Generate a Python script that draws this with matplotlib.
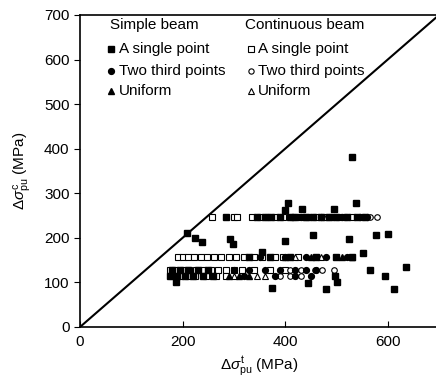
import matplotlib
matplotlib.use("Agg")
import matplotlib.pyplot as plt

plt.rcParams["font.family"] = ["Liberation Sans", "DejaVu Sans"]
plt.rcParams["mathtext.fontset"] = "custom"
plt.rcParams["mathtext.rm"] = "Liberation Sans"
plt.rcParams["mathtext.it"] = "Liberation Sans:italic"

# simple beam, a single point (filled squares)
ss_x = [531, 405, 538, 399, 432, 495, 208, 224, 237, 292, 298, 399, 354, 455, 525,
        577, 601, 552, 497, 501, 445, 479, 566, 594, 636, 612, 187, 375,
        284, 345, 360, 372, 390, 410, 420, 440, 455, 470, 485, 500, 520, 540, 555,
        330, 370, 410, 460, 500, 530,
        180, 195, 210, 230, 250, 175, 190, 205, 220, 240, 260]
ss_y = [382, 279, 279, 262, 264, 264, 210, 199, 191, 197, 186, 194, 169, 206, 197,
        206, 208, 167, 114, 102, 99, 85, 128, 115, 135, 85, 102, 87,
        247, 247, 247, 247, 247, 247, 247, 247, 247, 247, 247, 247, 247, 247, 247,
        158, 158, 158, 158, 158, 158,
        128, 128, 128, 128, 128, 114, 114, 114, 114, 114, 114]

# simple beam, two third points (filled circles)
st_x = [430, 470, 510, 545, 560, 350, 400, 440, 480, 520,
        300, 330, 360, 390, 420, 440, 460, 320, 380, 420, 450]
st_y = [247, 247, 247, 247, 247, 158, 158, 158, 158, 158,
        128, 128, 128, 128, 128, 128, 128, 114, 114, 114, 114]

# simple beam, uniform (filled triangles)
su_x = [400, 450, 510, 530, 290, 310, 330]
su_y = [158, 158, 158, 158, 114, 114, 114]

# continuous beam, a single point (open squares)
cs_x = [258, 300, 306, 335, 350, 365, 380, 395, 415, 430, 445, 460, 475, 490, 505, 515, 530, 550,
        191, 200, 210, 222, 235, 248, 262, 275, 290, 305, 320, 340, 355, 380, 395, 425,
        175, 185, 200, 213, 226, 240, 255, 270, 285, 300, 315, 340, 370, 400,
        180, 195, 210, 225, 245, 265, 285]
cs_y = [247] * 18 + [158] * 16 + [128] * 14 + [114] * 7

# continuous beam, two third points (open circles)
ct_x = [579, 565, 458, 471, 495, 410, 430, 390, 410, 430]
ct_y = [247, 247, 128, 128, 128, 128, 128, 114, 114, 114]

# continuous beam, uniform (open triangles)
cu_x = [420, 470, 300, 345, 360, 440, 480]
cu_y = [158, 158, 114, 114, 114, 247, 247]

W, H = 436, 387
fig = plt.figure(figsize=(W / 100, H / 100), dpi=100)
ax = fig.add_axes([80 / W, 60 / H, 359 / W, 312 / H])

ax.plot([0, 700], [0, 700], color="black", lw=1.5, zorder=1)

ax.plot(cs_x, cs_y, "s", ms=4, mfc="white", mec="black", mew=0.8, ls="none")
ax.plot(ct_x, ct_y, "o", ms=4, mfc="white", mec="black", mew=0.8, ls="none")
ax.plot(cu_x, cu_y, "^", ms=4, mfc="white", mec="black", mew=0.8, ls="none")
ax.plot(ss_x, ss_y, "s", ms=4.5, color="black", ls="none")
ax.plot(st_x, st_y, "o", ms=4.2, color="black", ls="none")
ax.plot(su_x, su_y, "^", ms=4.5, color="black", ls="none")

ax.set_xlim(0, 700)
ax.set_ylim(0, 700)
ax.set_xticks([0, 200, 400, 600])
ax.set_yticks(range(0, 701, 100))
ax.tick_params(axis="x", direction="in", length=4, labelsize=11, pad=6)
ax.tick_params(axis="y", direction="out", length=4, labelsize=11)
ax.spines["right"].set_visible(False)
for s in ax.spines.values():
    s.set_linewidth(1.2)

ax.set_xlabel(r"$\Delta\sigma^{\rm t}_{\rm pu}$ (MPa)", fontsize=11, labelpad=4)
ax.set_ylabel(r"$\Delta\sigma^{\rm c}_{\rm pu}$ (MPa)", fontsize=11, labelpad=8)

# legend drawn by hand in pixel positions
def fx(px):
    return px / W

def fy(py):
    return 1 - py / H

rows = [49, 71, 91]
labels = ["A single point", "Two third points", "Uniform"]
fig.text(fx(110), fy(25), "Simple beam", fontsize=11, va="center")
fig.text(fx(245), fy(25), "Continuous beam", fontsize=11, va="center")
for py, lab, m in zip(rows, labels, ["s", "o", "^"]):
    fig.lines.append(plt.Line2D([fx(111)], [fy(py)], marker=m, ms=4.2, color="black",
                                ls="none", transform=fig.transFigure))
    fig.text(fx(119), fy(py), lab, fontsize=11, va="center")
    fig.lines.append(plt.Line2D([fx(251)], [fy(py)], marker=m, ms=3.8, mfc="white",
                                mec="black", mew=0.8, ls="none", transform=fig.transFigure))
    fig.text(fx(258), fy(py), lab, fontsize=11, va="center")

fig.savefig("out.png", dpi=100)
